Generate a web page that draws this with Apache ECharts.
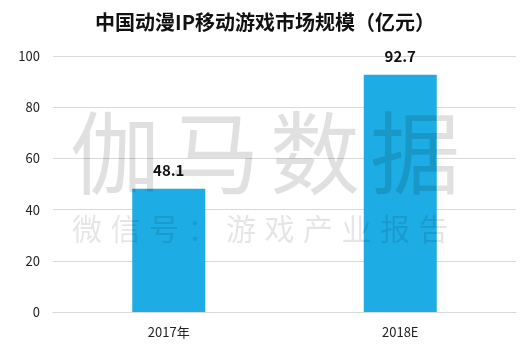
<!DOCTYPE html>
<html><head><meta charset="utf-8">
<script src="https://cdn.jsdelivr.net/npm/echarts@6/dist/echarts.min.js"></script>
<style>html,body{margin:0;padding:0;background:#fff}#c{width:530px;height:352px}</style>
</head><body><div id="c"></div>
<script>
const categories = ['2017年', '2018E'];
const values = [48.1, 92.7];
const titleText = '中国动漫IP移动游戏市场规模（亿元）';
const wm1 = ['伽','马','数','据'];
const wm2 = ['微','信','号','：','游','戏','产','业','报','告'];

const chart = echarts.init(document.getElementById('c'));
const font = '"Noto Sans CJK SC", "Noto Sans", sans-serif';
const graphics = [];
wm1.forEach((ch, i) => graphics.push({
  type: 'text', z: 100, left: 70 + i * 100, top: 108,
  style: { text: ch, font: '90px ' + font, fill: 'rgba(0,0,0,0.12)' }
}));
wm2.forEach((ch, i) => graphics.push({
  type: 'text', z: 100, left: 72 + i * 38.5, top: 214,
  style: { text: ch, font: '30px ' + font, fill: 'rgba(0,0,0,0.10)' }
}));

chart.setOption({
  animation: false,
  title: { text: titleText, left: 'center', top: 7,
    textStyle: { fontSize: 20, fontWeight: 'bold', color: '#111', fontFamily: font } },
  grid: { left: 53, right: 14, top: 56, bottom: 40 },
  xAxis: { type: 'category', data: categories,
    axisLine: { lineStyle: { color: '#d9d9d9', width: 1 } },
    axisTick: { show: false },
    axisLabel: { color: '#222', fontSize: 13, margin: 14, fontFamily: font } },
  yAxis: { type: 'value', min: 0, max: 100, interval: 20,
    axisLine: { show: false }, axisTick: { show: false },
    splitLine: { lineStyle: { color: '#d9d9d9' } },
    axisLabel: { color: '#222', fontSize: 13, margin: 13, fontFamily: font } },
  series: [{ type: 'bar', data: values, barWidth: 73,
    itemStyle: { color: '#1DADE4' },
    label: { show: true, position: 'top', distance: 11, fontSize: 15, fontWeight: 'bold', color: '#111', fontFamily: font } }],
  graphic: graphics
});
</script></body></html>
